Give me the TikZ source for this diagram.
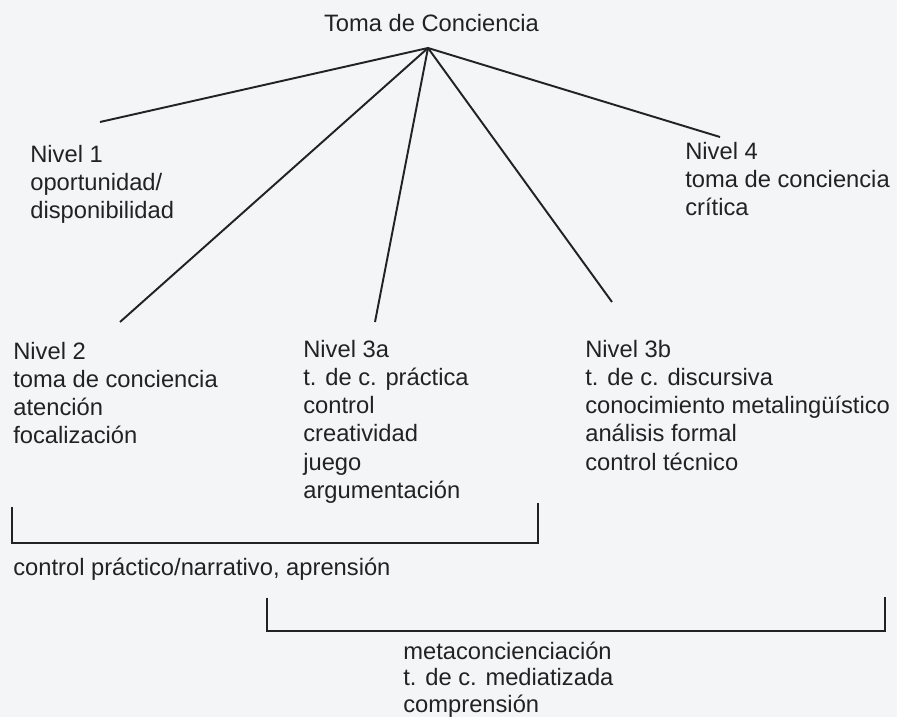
\documentclass[tikz,border=0pt]{standalone}
\usepackage{fontspec}
\setmainfont{Liberation Sans}
\usepackage{tikz}
\definecolor{paper}{RGB}{243,245,247}
\definecolor{ink}{RGB}{34,34,34}

\begin{document}
\begin{tikzpicture}[
  branch/.style={line width=1.1pt, ink},
  bracket/.style={line width=1pt, ink},
  label/.style={font=\fontsize{13.5pt}{16pt}\selectfont, text=ink,
    align=left, anchor=north west, inner sep=0pt}
]

%% --- page ---
\fill[paper] (0,0) rectangle (17.94,14.34);
\useasboundingbox (0,0) rectangle (17.94,14.34);

%% --- root ---
\node[font=\fontsize{13.5pt}{16pt}\selectfont, text=ink, anchor=base, inner sep=0pt]
  (title) at (8.63,13.70) {Toma de Conciencia};
\coordinate (apex) at (8.56,13.38);

%% --- end points of the branches ---
\coordinate (end1)  at (2.00,11.90);
\coordinate (end4)  at (14.40,11.60);
\coordinate (end2)  at (2.40,7.90);
\coordinate (end3a) at (7.50,7.90);
\coordinate (end3b) at (12.24,8.30);

\foreach \e in {end1,end4,end2,end3a,end3b}
  \draw[branch] (apex) -- (\e);

%% --- levels ---
\node[label] (nivel1) at (0.60,11.44) {Nivel 1\\oportunidad/\\disponibilidad};
\node[label] (nivel4) at (13.70,11.50) {Nivel 4\\toma de conciencia\\crítica};
\node[label] (nivel2) at (0.26,7.50)
  {Nivel 2\\toma de conciencia\\atención\\focalización};
\node[label] (nivel3a) at (6.06,7.54)
  {Nivel 3a\\t. de c. práctica\\control\\creatividad\\juego\\argumentación};
\node[label] (nivel3b) at (11.70,7.54)
  {Nivel 3b\\t. de c. discursiva\\conocimiento metalingüístico\\análisis formal\\control técnico};

%% --- first bracket: levels 2 and 3a ---
\coordinate (b1a) at (0.24,4.20);
\coordinate (b1b) at (10.76,4.28);
\draw[bracket] (b1a) |- (b1b |- 0,3.48) -- (b1b);
\node[label] (practico) at (0.26,3.18) {control práctico/narrativo, aprensión};

%% --- second bracket: levels 3a and 3b ---
\coordinate (b2a) at (5.34,2.38);
\coordinate (b2b) at (17.70,2.40);
\draw[bracket] (b2a) |- (b2b |- 0,1.72) -- (b2b);
\node[label, font=\fontsize{13.5pt}{15pt}\selectfont] (meta) at (8.06,1.51)
  {metaconcienciación\\t. de c. mediatizada\\comprensión};

\end{tikzpicture}
\end{document}
